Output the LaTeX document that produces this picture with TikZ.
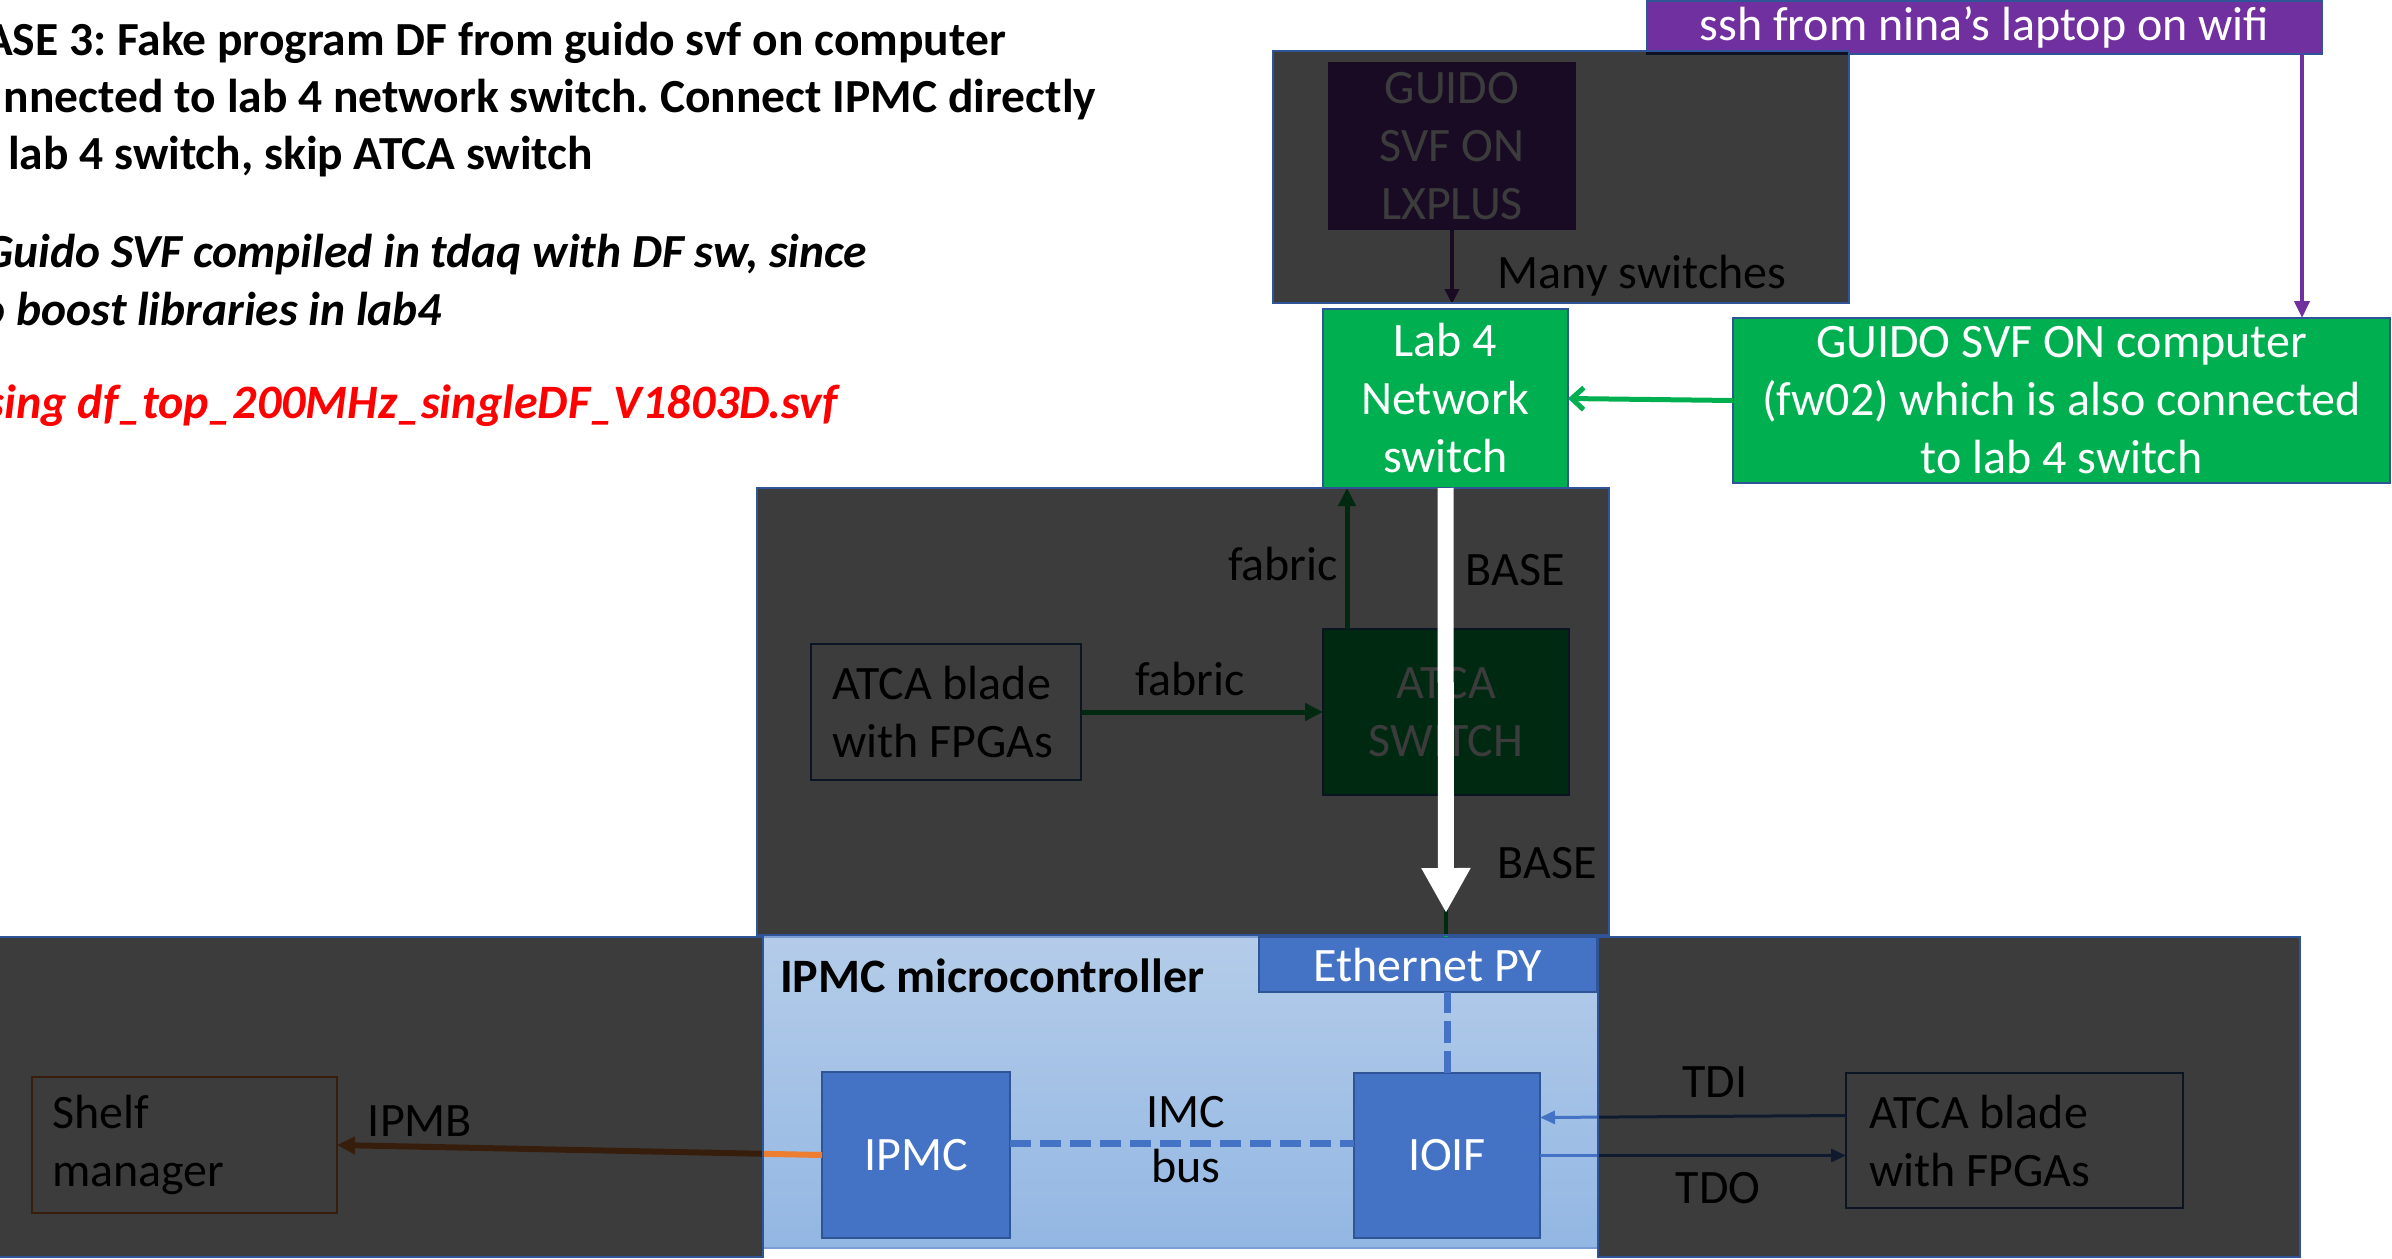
\documentclass[tikz,border=0pt]{standalone}
\usepackage{fontspec}
\setmainfont{Carlito}
\usetikzlibrary{arrows.meta}

\definecolor{fillblue}{HTML}{4472C4}
\definecolor{edgeblue}{HTML}{2F5597}
\definecolor{netgreen}{HTML}{00B050}
\definecolor{sshpurple}{HTML}{7030A0}
\definecolor{busorange}{HTML}{ED7D31}
\definecolor{mcutop}{HTML}{B4CCE9}
\definecolor{mcubottom}{HTML}{93B7E3}
\definecolor{svfred}{HTML}{FF0000}

\newcommand{\slidefont}{\fontsize{48pt}{58pt}\selectfont}
\newcommand{\notefont}{\fontsize{47.5pt}{58pt}\selectfont}
\frenchspacing

\begin{document}
\begin{tikzpicture}[x=1pt, y=-1pt,
  every node/.style={font=\slidefont, inner sep=0pt, outer sep=0pt},
  box/.style={draw=edgeblue, line width=2pt, align=center},
  dimmer/.style={draw=edgeblue, line width=2pt, fill=black, fill opacity=0.765, anchor=north west},
  tag/.style={anchor=base, text=black},
  heading/.style={anchor=base east, font=\notefont\bfseries},
  note/.style={anchor=base east, font=\notefont\bfseries\itshape},
  wire/.style={line width=5pt},
  thin wire/.style={line width=3pt},
]

\useasboundingbox (0,0) rectangle (2392,1258);
\fill[white] (0,0) rectangle (2392,1258);

% ---------- notes at the top left ----------
\node[heading] (t1) at (1006,55)  {ASE 3: Fake program DF from guido svf on computer};
\node[heading] (t2) at (1096,112) {nnected to lab 4 network switch. Connect IPMC directly};
\node[heading] (t3) at (593,169)  {lab 4 switch, skip ATCA switch};
\node[note] (t4) at (867,267) {Guido SVF compiled in tdaq with DF sw, since};
\node[note] (t5) at (442,325) {o boost libraries in lab4};
\node[note, font=\slidefont\bfseries\itshape, text=svfred] (t6) at (838,418) {sing df\_top\_200MHz\_singleDF\_V1803D.svf};

% ---------- network side ----------
\node[box, fill=sshpurple, text=white, minimum width=675pt, minimum height=53pt]
  (ssh) at (1984.5,27.5) {ssh from nina’s laptop on wifi};
\node[box, draw=none, fill=sshpurple, text=white, minimum width=248pt, minimum height=168pt]
  (lxplus) at (1452,146) {GUIDO\\SVF ON\\LXPLUS};
\node[box, fill=netgreen, text=white, minimum width=245pt, minimum height=179pt]
  (lab4) at (1445.5,398.5) {Lab 4\\Network\\switch};
\node[box, fill=netgreen, text=white, minimum width=657pt, minimum height=165pt]
  (comp) at (2061.5,400.5) {GUIDO SVF ON computer\\(fw02) which is also connected\\to lab 4 switch};

\path (lxplus.south |- lab4.north) coordinate (lxfoot);
\draw[line width=4pt, sshpurple, -{Triangle[length=15pt,width=14pt]}]
  (lxplus.south) -- ([yshift=5pt]lxfoot);
\coordinate (sshdrop) at ([xshift=-20pt]ssh.south east);
\draw[line width=4pt, sshpurple, -{Triangle[length=17pt,width=15pt]}]
  (sshdrop) -- (sshdrop |- comp.north);
\draw[wire, netgreen, -{Straight Barb[length=12pt,width=22pt]}] (comp.west) -- (lab4.east);

% ---------- ATCA shelf ----------
\node[box, minimum width=270pt, minimum height=136pt] (bladeL) at (946,712) {};
\node[anchor=west, align=left, text=black] (bladeLtxt) at ([xshift=21pt]bladeL.west) {ATCA blade\\with FPGAs};
\node[box, fill=netgreen, text=white, minimum width=246pt, minimum height=166pt]
  (atcasw) at (1446,712) {ATCA\\SWITCH};

\draw[wire, netgreen, -{Triangle[length=18pt,width=17pt]}] (bladeL.east) -- (atcasw.west);
\coordinate (fabup) at ([xshift=24pt]atcasw.north west);
\draw[wire, netgreen, -{Triangle[length=18pt,width=17pt]}] (fabup) -- (fabup |- lab4.south);

% ---------- IPMC microcontroller ----------
\node[draw=fillblue!70, line width=1.5pt, top color=mcutop, bottom color=mcubottom,
  minimum width=835pt, minimum height=311pt] (mcu) at (1180.5,1092.5) {};
\node[box, fill=fillblue, text=white, minimum width=338pt, minimum height=55pt]
  (eth) at (1428,964.5) {Ethernet PY};
\node[box, fill=fillblue, text=white, minimum width=188pt, minimum height=166pt]
  (ipmc) at (916,1155) {IPMC};
\node[box, fill=fillblue, text=white, minimum width=186pt, minimum height=165pt]
  (ioif) at (1447,1155.5) {IOIF};

\draw[line width=4pt, netgreen] (atcasw.south) -- (atcasw.south |- eth.north);

\coordinate (busL) at ([yshift=12pt]ipmc.east);
\draw[line width=7pt, fillblue, dash pattern=on 21pt off 9pt] (busL) -- (busL -| ioif.west);
\draw[line width=7pt, fillblue, dash pattern=on 22pt off 8pt] (ioif.north) -- (ioif.north |- eth.south);

% ---------- shelf manager and blade ----------
\node[box, draw=busorange, minimum width=305pt, minimum height=136pt] (shelf) at (184.5,1145) {};
\node[anchor=west, align=left, text=black] (shelftxt) at ([xshift=20pt]shelf.west) {Shelf\\manager};
\node[box, minimum width=337pt, minimum height=135pt] (bladeR) at (2014.5,1140.5) {};
\node[anchor=west, align=left, text=black] (bladeRtxt) at ([xshift=23pt]bladeR.west) {ATCA blade\\with FPGAs};

\draw[line width=6pt, busorange, -{Triangle[length=18pt,width=17pt]}] (ipmc.west) -- (shelf.east);
\draw[thin wire, fillblue, -{Triangle[length=15pt,width=13pt]}] ([yshift=25pt]bladeR.west) -- ([yshift=38pt]ioif.east);
\draw[thin wire, fillblue, -{Triangle[length=15pt,width=13pt]}] (ioif.east) -- ([yshift=-15pt]bladeR.west);

% ---------- dimmed regions ----------
\node[dimmer, minimum width=576pt, minimum height=252pt] (dimA) at (1273,51) {};
\node[dimmer, minimum width=852pt, minimum height=447pt] (dimB) at (757,488) {};
\node[dimmer, minimum width=768pt, minimum height=320pt] (dimC) at (-5,937) {};
\node[dimmer, minimum width=702pt, minimum height=320pt] (dimD) at (1598,937) {};

% ---------- link labels ----------
\node[tag] (manysw) at (1642,288) {Many switches};
\node[tag] (fabH) at (1190,695) {fabric};
\node[tag] (fabV) at (1283,580) {fabric};
\node[tag] (baseTop) at (1515,585) {BASE};
\node[tag] (baseLow) at (1547,878) {BASE};
\node[tag] (ipmb) at (420,1136) {IPMB};
\node[tag] (tdi) at (1715,1097) {TDI};
\node[tag] (tdo) at (1718,1203) {TDO};
\node[tag] (imc) at (1186,1127) {IMC};
\node[tag] (bus) at (1186,1182) {bus};
\node[anchor=base west, font=\slidefont\bfseries, text=black] (mcutitle) at (780,992) {IPMC microcontroller};

% ---------- direct route from lab 4 switch to the Ethernet PHY ----------
\coordinate (wtip) at (1446,913);
\draw[line width=16pt, white, -{Triangle[length=45pt,width=46pt]}] (lab4.south) -- (wtip);

\end{tikzpicture}
\end{document}
